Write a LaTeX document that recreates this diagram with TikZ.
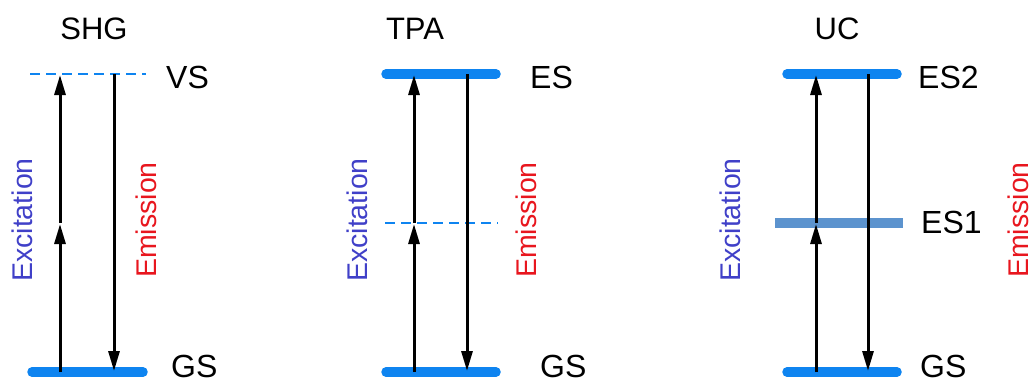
\documentclass[tikz,border=0pt]{standalone}
\usepackage{fontspec}
\setmainfont{Liberation Sans}
\usetikzlibrary{arrows.meta}

\definecolor{levelblue}{RGB}{14,132,240}
\definecolor{midblue}{RGB}{92,147,206}
\definecolor{excblue}{RGB}{64,64,200}
\definecolor{emired}{RGB}{232,22,30}

\tikzset{
  level/.style={levelblue, line width=9.5pt, line cap=round},
  virtual/.style={levelblue, line width=2.6pt, dash pattern=on 10pt off 6pt},
  midlevel/.style={midblue, line width=10pt},
  arr/.style={black, line width=3pt, -{Triangle[length=20pt,width=11pt]}, shorten >=1pt},
  title/.style={font=\fontsize{31}{31}\selectfont, anchor=base},
  statelbl/.style={font=\fontsize{32}{32}\selectfont, anchor=base west, inner sep=0pt},
  exclbl/.style={font=\fontsize{28.5}{28.5}\selectfont, text=excblue, rotate=90, inner sep=0pt},
  emilbl/.style={font=\fontsize{28.5}{28.5}\selectfont, text=emired, rotate=90, inner sep=0pt},
}

\begin{document}
\begin{tikzpicture}[x=1pt, y=-1pt]
\useasboundingbox (0,0) rectangle (1034,383);

% ---------- SHG ----------
\node[title] (shg) at (94,39) {SHG};
\draw[virtual] (30,74) -- (146,74);
\draw[level] (32,372) -- (143,372);
\coordinate (a1) at (60,372);
\coordinate (a2) at (60,223);
\coordinate (a3) at (60,74);
\coordinate (e1t) at (114,74);
\coordinate (e1b) at (114,372);
\draw[arr] (a1) -- (a2);
\draw[arr] (a2) -- (a3);
\draw[arr] (e1t) -- (e1b);
\node[statelbl] (vs) at (166,88) {VS};
\node[statelbl] (gs1) at (171,377) {GS};
\node[exclbl] (ex1) at (22,220) {Excitation};
\node[emilbl] (em1) at (146,220) {Emission};

% ---------- TPA ----------
\node[title] (tpa) at (415,39) {TPA};
\draw[level] (386,74) -- (496,74);
\draw[virtual] (385,223) -- (498,223);
\draw[level] (386,372) -- (496,372);
\coordinate (b1) at (414,372);
\coordinate (b2) at (414,223);
\coordinate (b3) at (414,74);
\coordinate (e2t) at (467,74);
\coordinate (e2b) at (467,372);
\draw[arr] (b1) -- (b2);
\draw[arr] (b2) -- (b3);
\draw[arr] (e2t) -- (e2b);
\node[statelbl] (es) at (530,88) {ES};
\node[statelbl] (gs2) at (540,377) {GS};
\node[exclbl] (ex2) at (357,220) {Excitation};
\node[emilbl] (em2) at (526,220) {Emission};

% ---------- UC ----------
\node[title] (uc) at (837,39) {UC};
\draw[level] (787,74) -- (897,74);
\draw[midlevel] (775,223) -- (903,223);
\draw[level] (787,372) -- (897,372);
\coordinate (c1) at (816,372);
\coordinate (c2) at (816,223);
\coordinate (c3) at (816,74);
\coordinate (e3t) at (868,74);
\coordinate (e3b) at (868,372);
\draw[arr] (c1) -- (c2);
\draw[arr] (c2) -- (c3);
\draw[arr] (e3t) -- (e3b);
\node[statelbl] (es2) at (918,88) {ES2};
\node[statelbl] (es1) at (921,233) {ES1};
\node[statelbl] (gs3) at (920,377) {GS};
\node[exclbl] (ex3) at (730,220) {Excitation};
\node[emilbl] (em3) at (1018,220) {Emission};
\end{tikzpicture}
\end{document}
